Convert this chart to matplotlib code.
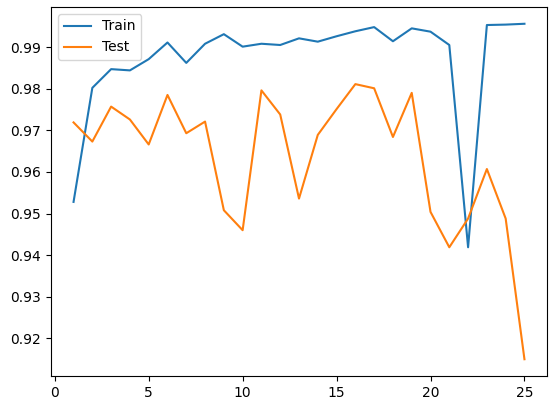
import matplotlib
matplotlib.use('Agg')
import matplotlib.pyplot as plt

epochs = list(range(1, 26))
train_acc = [0.9528, 0.9802, 0.9847, 0.9844, 0.9871, 0.9911, 0.9862, 0.9908,
             0.9931, 0.9901, 0.9908, 0.9905, 0.9921, 0.9913, 0.9926, 0.9938,
             0.9948, 0.9914, 0.9945, 0.9937, 0.9905, 0.9419, 0.9953, 0.9954,
             0.9956]
test_acc = [0.9719, 0.9673, 0.9757, 0.9726, 0.9666, 0.9785, 0.9693, 0.9721,
            0.9508, 0.9460, 0.9796, 0.9738, 0.9536, 0.9689, 0.9751, 0.9811,
            0.9801, 0.9684, 0.9790, 0.9504, 0.9419, 0.9488, 0.9607, 0.9488,
            0.9150]

fig = plt.figure(figsize=(5.57, 4.09), dpi=100)
ax = fig.add_axes([51 / 557, 33 / 409, 496 / 557, 369 / 409])
ax.plot(epochs, train_acc, label='Train')
ax.plot(epochs, test_acc, label='Test')
ax.legend(loc='upper left')
fig.savefig('out.png', dpi=100)
